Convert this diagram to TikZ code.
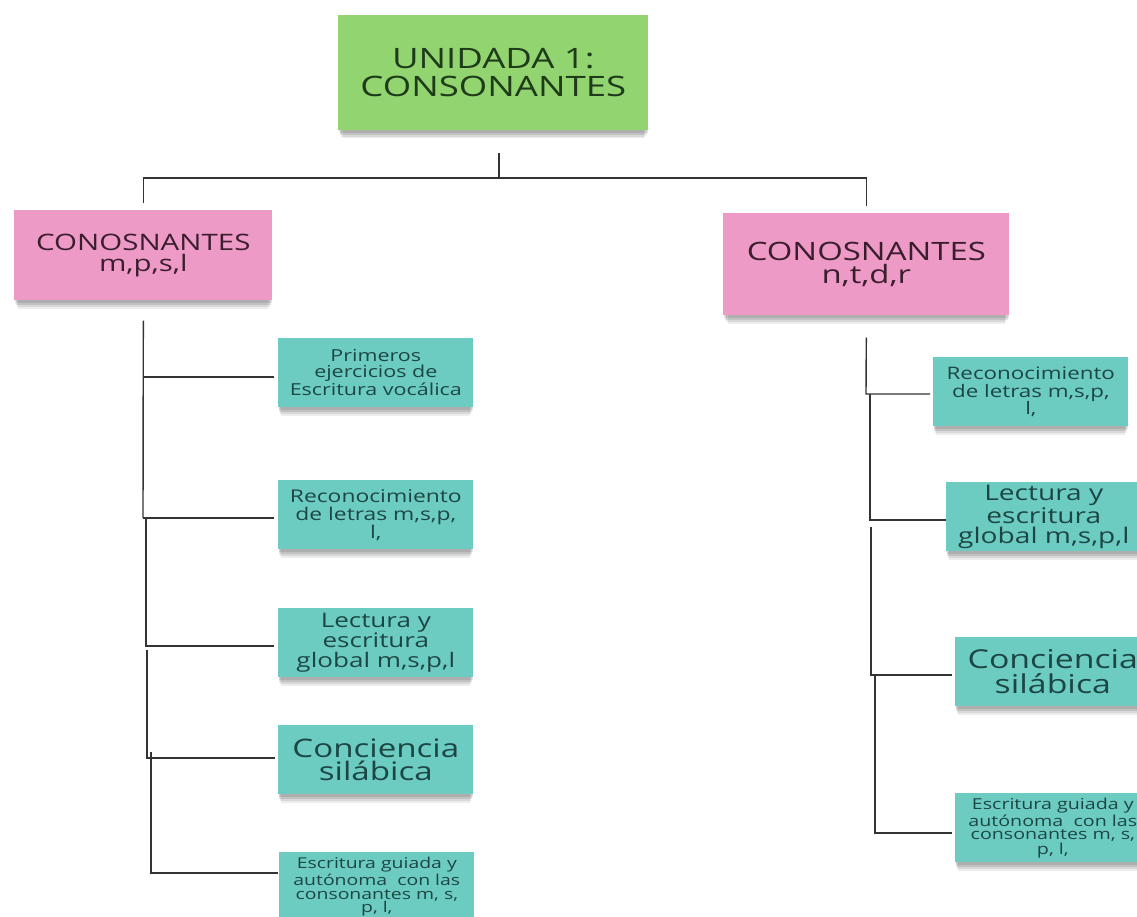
\documentclass[tikz,border=0pt]{standalone}
\usepackage{fontspec}
\setmainfont[FakeStretch=1.3]{Open Sans}
\usetikzlibrary{positioning,shadows}

\definecolor{notegreen}{HTML}{92D470}
\definecolor{notepink}{HTML}{EE9AC6}
\definecolor{noteteal}{HTML}{6DCCC2}
\definecolor{inkgreen}{HTML}{1E3B1A}
\definecolor{inkpink}{HTML}{3B1E2E}
\definecolor{inkteal}{HTML}{1C4644}

\tikzset{
  note/.style={align=center, inner sep=0pt,
    general shadow={fill=black, opacity=0.1, shadow yshift=-0.05cm, shadow scale=0.995},
    general shadow={fill=black, opacity=0.1, shadow yshift=-0.1cm, shadow scale=0.99},
    general shadow={fill=black, opacity=0.09, shadow yshift=-0.15cm, shadow scale=0.98},
    general shadow={fill=black, opacity=0.07, shadow yshift=-0.2cm, shadow scale=0.97}},
  unitnote/.style={note, fill=notegreen, text=inkgreen},
  groupnote/.style={note, fill=notepink, text=inkpink},
  itemnote/.style={note, fill=noteteal, text=inkteal, minimum width=3.9cm, minimum height=1.38cm},
  link/.style={draw=black!80, line width=0.8pt}
}

\begin{document}
\begin{tikzpicture}[x=0.02cm, y=-0.02cm]
\useasboundingbox (0,0) rectangle (1137,917);
\clip (0,0) rectangle (1137,917);

\node (unidad) [unitnote, anchor=north west, minimum width=6.2cm, minimum height=2.3cm,
  font=\fontsize{16}{15.9}\selectfont] at (338,15) {UNIDADA 1:\\CONSONANTES};

\node (mpsl) [groupnote, anchor=north west, minimum width=5.16cm, minimum height=1.8cm,
  font=\fontsize{12.9}{11.9}\selectfont] at (14,210) {CONOSNANTES\\m,p,s,l};
\node (ntdr) [groupnote, anchor=north west, minimum width=5.72cm, minimum height=2.04cm,
  font=\fontsize{14.4}{13.2}\selectfont] at (723,213) {CONOSNANTES\\n,t,d,r};

% left column
\node (pri) [itemnote, anchor=north west, font=\fontsize{9.4}{8.8}\selectfont] at (278,338)
  {Primeros\\ejercicios de\\Escritura vocálica};
\node (rec) [itemnote, anchor=north west, font=\fontsize{10}{10.2}\selectfont] at (278,480)
  {Reconocimiento\\de letras m,s,p,\\l,};
\node (lec) [itemnote, anchor=north west, font=\fontsize{11.4}{11.3}\selectfont] at (278,608)
  {Lectura y\\escritura\\global m,s,p,l};
\node (con) [itemnote, anchor=north west, font=\fontsize{14.5}{13.4}\selectfont] at (278,725)
  {Conciencia\\silábica};
\node (esc) [itemnote, anchor=north west, font=\fontsize{8.5}{7.6}\selectfont] at (279,852)
  {Escritura guiada y\\autónoma~ con las\\consonantes m, s,\\p, l,};

% right column
\node (rrec) [itemnote, anchor=north west, font=\fontsize{9.8}{10.2}\selectfont] at (933,357)
  {Reconocimiento\\de letras m,s,p,\\l,};
\node (rlec) [itemnote, anchor=north west, font=\fontsize{12.3}{11.8}\selectfont] at (946,482)
  {Lectura y\\escritura\\global m,s,p,l};
\node (rcon) [itemnote, anchor=north west, font=\fontsize{14.8}{14}\selectfont] at (955,637)
  {Conciencia\\silábica};
\node (resc) [itemnote, anchor=north west, font=\fontsize{8.6}{7.5}\selectfont] at (955,793)
  {Escritura guiada y\\autónoma~ con las\\consonantes m, s,\\p, l,};

% top level
\coordinate (tj) at (499,178);
\draw[link, shorten <=0.44cm] (tj |- unidad.south) -- (tj);
\draw[link, shorten <=0.14cm, shorten >=0.14cm] (mpsl.north) |- (tj) -| (ntdr.north);

% left branch
\coordinate (la) at (143,377);
\coordinate (lb) at (143,518);
\coordinate (lc) at (146,646);
\coordinate (ld) at (147,758);
\coordinate (le) at (151,873);
\draw[link] ([yshift=-0.4cm]mpsl.south) -- (lb);
\draw[link, shorten >=0.08cm] (la) -- (la -| pri.west);
\draw[link, shorten >=0.08cm] (lb) -- (lb -| rec.west);
\draw[link, shorten >=0.08cm] (lb) ++(3,0) -- (lc) -- (lc -| lec.west);
\draw[link, shorten >=0.06cm] (lc) ++(1,4) -- (ld) -- (ld -| con.west);
\draw[link, shorten >=0.02cm] (ld) ++(4,-6) -- (le) -- (le -| esc.west);

% right branch
\coordinate (ra) at (866,394);
\coordinate (rb) at (870,520);
\coordinate (rc) at (871,675);
\coordinate (rd) at (875,833);
\draw[link, shorten >=0.06cm] ([yshift=-0.44cm]ntdr.south) -- (ra) -- (ra -| rrec.west);
\draw[link] (ra) ++(4,0) -- (rb) -- (rb -| rlec.west);
\draw[link, shorten >=0.06cm] (rb) ++(1,7) -- (rc) -- (rc -| rcon.west);
\draw[link, shorten >=0.06cm] (rc) ++(4,0) -- (rd) -- (rd -| resc.west);
\end{tikzpicture}
\end{document}
